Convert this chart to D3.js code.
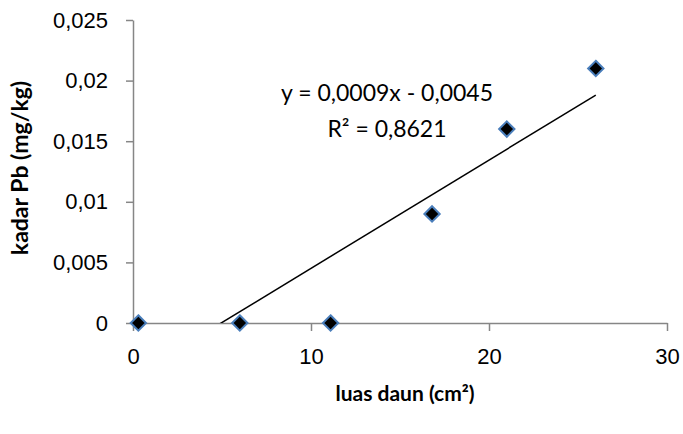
<!DOCTYPE html>
<html>
  <head>
    <meta charset="utf-8">
    <title>kadar Pb vs luas daun</title>
    <script src="https://d3js.org/d3.v7.min.js"></script>
    <style>
      body { margin: 0; background: #fff; }
      svg { font-family: Lato, "Open Sans", sans-serif; }
      .axis path, .axis line { stroke: #868686; }
      .axis text { fill: #000; font-size: 22px; }
    </style>
  </head>
  <body>
    <svg id="chart" width="683" height="434"></svg>
    <script>
      // data
      luasDaun = [0.3, 6, 11.1, 16.8, 21, 26];
      kadarPb = [0, 0, 0, 0.009, 0.016, 0.021];
      xTicks = [0, 10, 20, 30];
      yTicks = [0, 0.005, 0.01, 0.015, 0.02, 0.025];
      equationText = ["y = 0,0009x - 0,0045", "R² = 0,8621"];

      svg = d3.select("#chart");
      margin = { top: 20, right: 16, bottom: 111, left: 133 };
      width = 683 - margin.left - margin.right;
      height = 434 - margin.top - margin.bottom;

      x = d3.scaleLinear().domain([0, 30]).range([0, width]);
      y = d3.scaleLinear().domain([0, 0.025]).range([height, 0]);
      comma = function(d) { return String(d).replace(".", ","); };

      g = svg.append("g")
        .attr("transform", "translate(" + margin.left + "," + margin.top + ")");

      g.append("defs").append("clipPath")
        .attr("id", "plotClip")
        .append("rect")
          .attr("width", width)
          .attr("height", height);

      g.append("g")
        .attr("class", "axis")
        .attr("transform", "translate(0," + height + ")")
        .call(d3.axisBottom(x).tickValues(xTicks).tickSizeInner(8).tickSizeOuter(0).tickPadding(17))
        .call(function(a) { a.select(".domain").attr("stroke-width", 1.5); })
        .call(function(a) { a.selectAll("line").attr("stroke-width", 1.5); });

      g.append("g")
        .attr("class", "axis")
        .call(d3.axisLeft(y).tickValues(yTicks).tickFormat(comma).tickSizeInner(7).tickSizeOuter(0).tickPadding(18))
        .call(function(a) { a.select(".domain").attr("stroke-width", 1.5); })
        .call(function(a) { a.selectAll("line").attr("stroke-width", 1.5); });

      // linear trendline (least squares) over the data range
      mx = d3.mean(luasDaun);
      my = d3.mean(kadarPb);
      sxy = d3.sum(luasDaun, function(d, i) { return (d - mx) * (kadarPb[i] - my); });
      sxx = d3.sum(luasDaun, function(d) { return (d - mx) * (d - mx); });
      slope = sxy / sxx;
      intercept = my - slope * mx;
      xr = d3.extent(luasDaun);

      g.append("line")
        .attr("clip-path", "url(#plotClip)")
        .attr("x1", x(xr[0])).attr("y1", y(slope * xr[0] + intercept))
        .attr("x2", x(xr[1])).attr("y2", y(slope * xr[1] + intercept))
        .attr("stroke", "#000")
        .attr("stroke-width", 1.5);

      g.selectAll(".point")
        .data(luasDaun)
        .enter().append("path")
          .attr("class", "point")
          .attr("d", d3.symbol(d3.symbolDiamond2, 150))
          .attr("transform", function(d, i) { return "translate(" + x(d) + "," + y(kadarPb[i]) + ")"; })
          .attr("fill", "#000")
          .attr("stroke", "#4a7ebb")
          .attr("stroke-width", 2);

      g.append("text")
        .attr("text-anchor", "middle")
        .style("font-size", "23px")
        .selectAll("tspan")
        .data(equationText)
        .enter().append("tspan")
          .attr("x", 254)
          .attr("y", function(d, i) { return i ? 117 : 81; })
          .text(function(d) { return d; });

      svg.append("text")
        .attr("transform", "translate(28,168) rotate(-90)")
        .attr("text-anchor", "middle")
        .style("font-size", "23px")
        .style("font-weight", "bold")
        .text("kadar Pb (mg/kg)");

      svg.append("text")
        .attr("x", 405)
        .attr("y", 401)
        .attr("text-anchor", "middle")
        .style("font-size", "21px")
        .style("font-weight", "bold")
        .text("luas daun (cm²)");
    </script>
  </body>
</html>
